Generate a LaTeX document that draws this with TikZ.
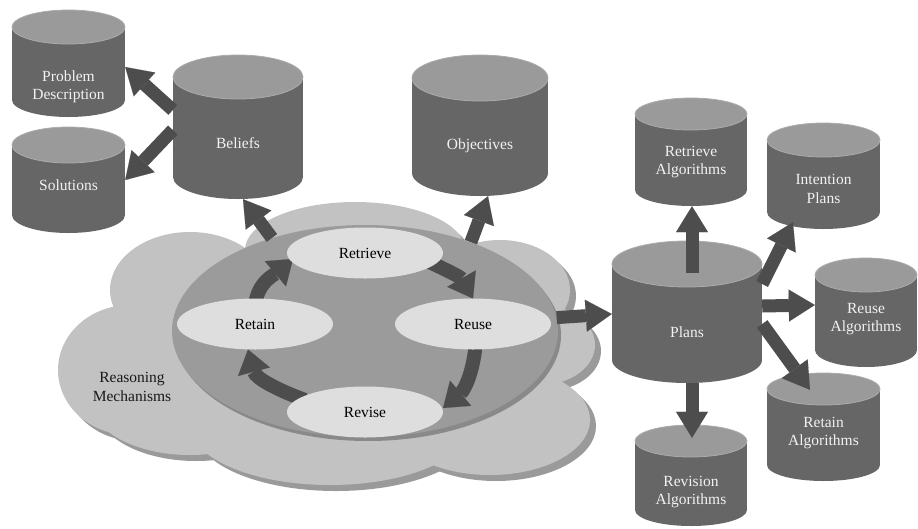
\documentclass[tikz,border=0pt]{standalone}
\usepackage{fontspec}
\setmainfont{Liberation Serif}
\usetikzlibrary{shapes.geometric,arrows.meta,calc}
\definecolor{cylbody}{HTML}{666666}
\definecolor{cyltop}{HTML}{9A9A9A}
\definecolor{cyledge}{HTML}{ABABAB}
\definecolor{arrowc}{HTML}{4D4D4D}
\definecolor{cloudc}{HTML}{C2C2C2}
\definecolor{cloudsh}{HTML}{9A9A9A}
\definecolor{corec}{HTML}{9B9B9B}
\definecolor{coresh}{HTML}{898989}
\definecolor{innerc}{HTML}{DEDEDE}
\definecolor{cyltxt}{HTML}{F2F2F2}

\newcommand\mycyl[8]{% name, cx, top, bottom, rx, ry, text y, text
  \fill[cylbody] ({#2-#5},{-#3}) rectangle ({#2+#5},{-#4});
  \fill[cylbody] (#2,{-#4}) ellipse[x radius=#5, y radius=#6];
  \filldraw[fill=cyltop, draw=cyledge, line width=0.8pt] (#2,{-#3}) ellipse[x radius=#5, y radius=#6];
  \node[cyltext] (#1-text) at (#2,{-#7}) {#8};
  \node[inner sep=0pt, minimum width={2*#5*1pt}, minimum height={(#4-#3+2*#6)*1pt}] (#1) at (#2,{-(#3+#4)/2}) {};
}

\begin{document}
\begin{tikzpicture}[x=1pt,y=1pt,
  cyltext/.style={text=cyltxt, font=\fontsize{15.5}{18.5}\selectfont, align=center, inner sep=0pt},
  inner/.style={ellipse, fill=innerc, minimum width=156pt, minimum height=51pt, inner sep=0pt,
    font=\fontsize{15.5}{18}\selectfont, text=black},
  blockarrow/.style={draw=arrowc, line width=13pt,
    -{Triangle[width=32pt,length=26pt,line width=0.1pt]}},
  carrow/.style={draw=arrowc, line width=14pt,
    -{Triangle[width=33pt,length=23pt,line width=0.1pt]}},
  bubble/.style={fill=cloudc},
  bubblesh/.style={fill=cloudsh}
]
\useasboundingbox (0,0) rectangle (918,-528);
\fill[white] (0,0) rectangle (918,-528);

% cloud shadow
\begin{scope}[shift={(6,-6)}]
  \fill[bubblesh] (355,-250) ellipse[x radius=110, y radius=48];
  \fill[bubblesh] (190,-290) ellipse[x radius=80, y radius=58];
  \fill[bubblesh] (130,-370) ellipse[x radius=72, y radius=65];
  \fill[bubblesh] (190,-400) ellipse[x radius=100, y radius=55];
  \fill[bubblesh] (330,-425) ellipse[x radius=140, y radius=60];
  \fill[bubblesh] (490,-420) ellipse[x radius=100, y radius=55];
  \fill[bubblesh] (500,-290) ellipse[x radius=70, y radius=50];
  \fill[bubblesh] (540,-345) ellipse[x radius=55, y radius=40];
\end{scope}
% cloud
\fill[bubble] (355,-250) ellipse[x radius=110, y radius=48];
\fill[bubble] (190,-290) ellipse[x radius=80, y radius=58];
\fill[bubble] (130,-370) ellipse[x radius=72, y radius=65];
\fill[bubble] (190,-400) ellipse[x radius=100, y radius=55];
\fill[bubble] (330,-425) ellipse[x radius=140, y radius=60];
\fill[bubble] (490,-420) ellipse[x radius=100, y radius=55];
\fill[bubble] (500,-290) ellipse[x radius=70, y radius=50];
\fill[bubble] (540,-345) ellipse[x radius=55, y radius=40];

\node[font=\fontsize{15.5}{19}\selectfont, align=center, text=black!90] (reasoning) at (132,-387) {Reasoning\\Mechanisms};

% core ellipse
\fill[coresh] (368,-335) ellipse[x radius=193, y radius=106];
\node[ellipse, fill=corec, minimum width=386pt, minimum height=212pt, inner sep=0pt] (core) at (365,-331) {};

% inner ellipses (positions), drawn after their arrows
\path (365,-253) coordinate (retrieve-c) (255,-324) coordinate (retain-c)
      (473,-324) coordinate (reuse-c) (365,-412) coordinate (revise-c);

\draw[carrow] ($(retrieve-c)+(58,-6)$) to[out=-25,in=120] ($(reuse-c)+(0,25.5)$);
\draw[carrow] ($(reuse-c)+(3,-18)$) to[out=-95,in=40] ($(revise-c)+(78,4)$);
\draw[carrow] ($(revise-c)+(-60,12)$) to[out=160,in=-75] ($(retain-c)+(-7,-25.5)$);
\draw[carrow] ($(retain-c)+(0,18)$) to[out=85,in=220] ($(retrieve-c)+(-72,-6)$);

\node[inner] (retrieve) at (retrieve-c) {Retrieve};
\node[inner] (retain) at (retain-c) {Retain};
\node[inner] (reuse) at (reuse-c) {Reuse};
\node[inner] (revise) at (revise-c) {Revise};

% cylinders
\mycyl{probdesc}{68.5}{27}{100}{56.5}{17}{87}{Problem\\Description}
\mycyl{solutions}{68.5}{145}{215}{56.5}{18}{185}{Solutions}
\mycyl{beliefs}{238}{77}{177}{65}{22}{143}{Beliefs}
\mycyl{objectives}{480}{78}{173}{68}{23}{146}{Objectives}
\mycyl{retalg}{691}{114}{190}{56}{16}{162}{Retrieve\\Algorithms}
\mycyl{intplans}{823.5}{140}{212}{56.5}{17}{189}{Intention\\Plans}
\mycyl{reusealg}{866}{275}{350}{51}{17}{319}{Reuse\\Algorithms}
\mycyl{retainalg}{823.5}{389}{465}{56.5}{16}{433}{Retain\\Algorithms}
\mycyl{revalg}{691}{441}{510}{56}{16}{492}{Revision\\Algorithms}
\mycyl{plans}{687}{264}{360}{75}{23}{332}{Plans}

% block arrows
\draw[blockarrow] (core.135) -- ($(beliefs.south)+(5,0)$);
\draw[blockarrow] (core.40) -- ($(objectives.south)+(8,0)$);
\draw[blockarrow] ($(beliefs.west)+(0,17)$) -- ($(probdesc.east)+(0,-3.5)$);
\draw[blockarrow] ($(beliefs.west)+(0,-3)$) -- (solutions.east);
\draw[blockarrow] (core.4) -- ($(plans.west)+(0,-2)$);
\draw[blockarrow] ($(plans.north)+(5,-32)$) -- ($(retalg.south)+(1,0)$);
\draw[blockarrow] ($(plans.east)+(0,28)$) -- ($(intplans.south)+(-30.5,7)$);
\draw[blockarrow] ($(plans.east)+(0,6)$) -- ($(reusealg.west)+(0,7.5)$);
\draw[blockarrow] ($(plans.east)+(0,-12)$) -- ($(retainalg.north)+(-13.5,-17)$);
\draw[blockarrow] ($(plans.south)+(5,0)$) -- ($(revalg.north)+(1,-13)$);
\end{tikzpicture}
\end{document}
